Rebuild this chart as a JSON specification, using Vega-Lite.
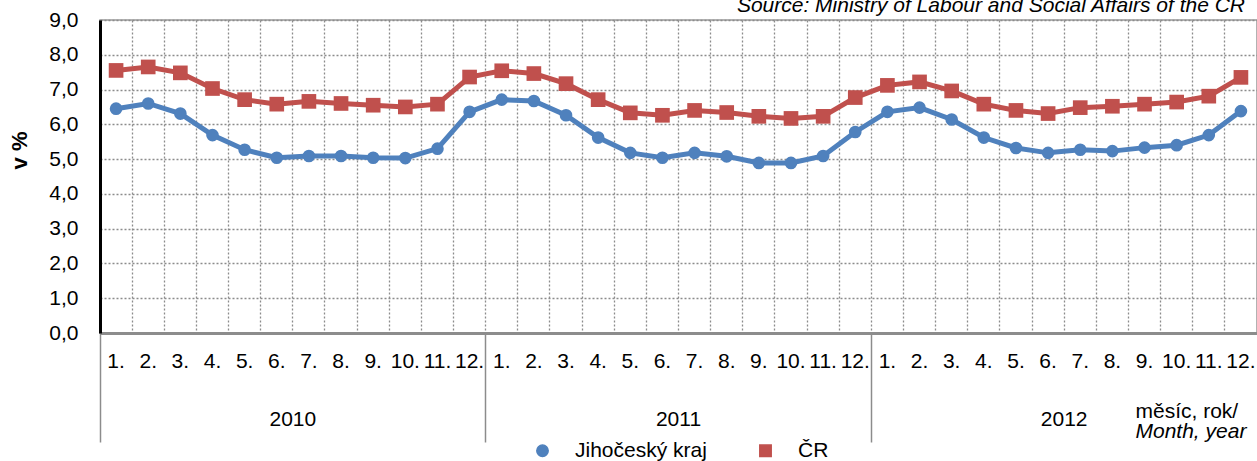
{
  "$schema": "https://vega.github.io/schema/vega-lite/v6.json",
  "width": 1157,
  "height": 313,
  "autosize": "none",
  "padding": {"left": 100, "top": 20, "right": 0, "bottom": 128},
  "background": "white",
  "title": {
    "text": "Source: Ministry of Labour and Social Affairs of the CR",
    "anchor": "end",
    "frame": "group",
    "fontSize": 21,
    "fontStyle": "italic",
    "fontWeight": "normal",
    "color": "black",
    "baseline": "alphabetic",
    "offset": -9,
    "dx": -12,
    "dy": 15
  },
  "data": {
    "values": [
      {"period": "2010-01", "year": "2010", "series": "Jihočeský kraj", "value": 6.45},
      {"period": "2010-02", "year": "2010", "series": "Jihočeský kraj", "value": 6.60},
      {"period": "2010-03", "year": "2010", "series": "Jihočeský kraj", "value": 6.31},
      {"period": "2010-04", "year": "2010", "series": "Jihočeský kraj", "value": 5.69},
      {"period": "2010-05", "year": "2010", "series": "Jihočeský kraj", "value": 5.27},
      {"period": "2010-06", "year": "2010", "series": "Jihočeský kraj", "value": 5.04},
      {"period": "2010-07", "year": "2010", "series": "Jihočeský kraj", "value": 5.09},
      {"period": "2010-08", "year": "2010", "series": "Jihočeský kraj", "value": 5.09},
      {"period": "2010-09", "year": "2010", "series": "Jihočeský kraj", "value": 5.04},
      {"period": "2010-10", "year": "2010", "series": "Jihočeský kraj", "value": 5.03},
      {"period": "2010-11", "year": "2010", "series": "Jihočeský kraj", "value": 5.30},
      {"period": "2010-12", "year": "2010", "series": "Jihočeský kraj", "value": 6.36},
      {"period": "2011-01", "year": "2011", "series": "Jihočeský kraj", "value": 6.71},
      {"period": "2011-02", "year": "2011", "series": "Jihočeský kraj", "value": 6.67},
      {"period": "2011-03", "year": "2011", "series": "Jihočeský kraj", "value": 6.26},
      {"period": "2011-04", "year": "2011", "series": "Jihočeský kraj", "value": 5.62},
      {"period": "2011-05", "year": "2011", "series": "Jihočeský kraj", "value": 5.18},
      {"period": "2011-06", "year": "2011", "series": "Jihočeský kraj", "value": 5.04},
      {"period": "2011-07", "year": "2011", "series": "Jihočeský kraj", "value": 5.18},
      {"period": "2011-08", "year": "2011", "series": "Jihočeský kraj", "value": 5.08},
      {"period": "2011-09", "year": "2011", "series": "Jihočeský kraj", "value": 4.89},
      {"period": "2011-10", "year": "2011", "series": "Jihočeský kraj", "value": 4.89},
      {"period": "2011-11", "year": "2011", "series": "Jihočeský kraj", "value": 5.09},
      {"period": "2011-12", "year": "2011", "series": "Jihočeský kraj", "value": 5.78},
      {"period": "2012-01", "year": "2012", "series": "Jihočeský kraj", "value": 6.36},
      {"period": "2012-02", "year": "2012", "series": "Jihočeský kraj", "value": 6.48},
      {"period": "2012-03", "year": "2012", "series": "Jihočeský kraj", "value": 6.14},
      {"period": "2012-04", "year": "2012", "series": "Jihočeský kraj", "value": 5.62},
      {"period": "2012-05", "year": "2012", "series": "Jihočeský kraj", "value": 5.32},
      {"period": "2012-06", "year": "2012", "series": "Jihočeský kraj", "value": 5.18},
      {"period": "2012-07", "year": "2012", "series": "Jihočeský kraj", "value": 5.27},
      {"period": "2012-08", "year": "2012", "series": "Jihočeský kraj", "value": 5.23},
      {"period": "2012-09", "year": "2012", "series": "Jihočeský kraj", "value": 5.33},
      {"period": "2012-10", "year": "2012", "series": "Jihočeský kraj", "value": 5.40},
      {"period": "2012-11", "year": "2012", "series": "Jihočeský kraj", "value": 5.69},
      {"period": "2012-12", "year": "2012", "series": "Jihočeský kraj", "value": 6.38},
      {"period": "2010-01", "year": "2010", "series": "ČR", "value": 7.55},
      {"period": "2010-02", "year": "2010", "series": "ČR", "value": 7.65},
      {"period": "2010-03", "year": "2010", "series": "ČR", "value": 7.48},
      {"period": "2010-04", "year": "2010", "series": "ČR", "value": 7.03},
      {"period": "2010-05", "year": "2010", "series": "ČR", "value": 6.71},
      {"period": "2010-06", "year": "2010", "series": "ČR", "value": 6.58},
      {"period": "2010-07", "year": "2010", "series": "ČR", "value": 6.66},
      {"period": "2010-08", "year": "2010", "series": "ČR", "value": 6.60},
      {"period": "2010-09", "year": "2010", "series": "ČR", "value": 6.55},
      {"period": "2010-10", "year": "2010", "series": "ČR", "value": 6.50},
      {"period": "2010-11", "year": "2010", "series": "ČR", "value": 6.58},
      {"period": "2010-12", "year": "2010", "series": "ČR", "value": 7.36},
      {"period": "2011-01", "year": "2011", "series": "ČR", "value": 7.54},
      {"period": "2011-02", "year": "2011", "series": "ČR", "value": 7.46},
      {"period": "2011-03", "year": "2011", "series": "ČR", "value": 7.17},
      {"period": "2011-04", "year": "2011", "series": "ČR", "value": 6.71},
      {"period": "2011-05", "year": "2011", "series": "ČR", "value": 6.33},
      {"period": "2011-06", "year": "2011", "series": "ČR", "value": 6.26},
      {"period": "2011-07", "year": "2011", "series": "ČR", "value": 6.40},
      {"period": "2011-08", "year": "2011", "series": "ČR", "value": 6.34},
      {"period": "2011-09", "year": "2011", "series": "ČR", "value": 6.23},
      {"period": "2011-10", "year": "2011", "series": "ČR", "value": 6.17},
      {"period": "2011-11", "year": "2011", "series": "ČR", "value": 6.23},
      {"period": "2011-12", "year": "2011", "series": "ČR", "value": 6.77},
      {"period": "2012-01", "year": "2012", "series": "ČR", "value": 7.12},
      {"period": "2012-02", "year": "2012", "series": "ČR", "value": 7.22},
      {"period": "2012-03", "year": "2012", "series": "ČR", "value": 6.96},
      {"period": "2012-04", "year": "2012", "series": "ČR", "value": 6.58},
      {"period": "2012-05", "year": "2012", "series": "ČR", "value": 6.40},
      {"period": "2012-06", "year": "2012", "series": "ČR", "value": 6.31},
      {"period": "2012-07", "year": "2012", "series": "ČR", "value": 6.48},
      {"period": "2012-08", "year": "2012", "series": "ČR", "value": 6.52},
      {"period": "2012-09", "year": "2012", "series": "ČR", "value": 6.58},
      {"period": "2012-10", "year": "2012", "series": "ČR", "value": 6.64},
      {"period": "2012-11", "year": "2012", "series": "ČR", "value": 6.81},
      {"period": "2012-12", "year": "2012", "series": "ČR", "value": 7.35}
    ]
  },
  "layer": [
    {
      "encoding": {
        "x": {
          "field": "period",
          "type": "ordinal",
          "scale": {"type": "band", "paddingInner": 0, "paddingOuter": 0},
          "axis": {
            "orient": "bottom",
            "title": "měsíc, rok/",
            "titleX": 1035,
            "titleY": 84,
            "titleAlign": "left",
            "titleBaseline": "alphabetic",
            "titleAngle": 0,
            "titleFontSize": 21,
            "titleFontWeight": "normal",
            "titleColor": "black",
            "labelExpr": "toNumber(slice(datum.value, 5)) + '.'",
            "labelAngle": 0,
            "labelFontSize": 21,
            "labelColor": "black",
            "labelPadding": 17,
            "labelOverlap": false,
            "bandPosition": 0,
            "ticks": false,
            "grid": true,
            "gridDash": [2, 2],
            "gridColor": "#8c8c8c",
            "gridWidth": 1.3,
            "domainColor": "#8c8c8c",
            "domainWidth": 3
          }
        },
        "y": {
          "field": "value",
          "type": "quantitative",
          "scale": {"domain": [0, 9], "nice": false},
          "axis": {
            "title": "v %",
            "titleFontSize": 22,
            "titleFontWeight": "bold",
            "titleColor": "black",
            "titleX": -81,
            "titleY": 130,
            "titleAngle": -90,
            "titleAlign": "center",
            "titleBaseline": "middle",
            "values": [0, 1, 2, 3, 4, 5, 6, 7, 8, 9],
            "labelExpr": "replace(format(datum.value, '.1f'), '.', ',')",
            "labelFontSize": 21,
            "labelColor": "black",
            "labelPadding": 22,
            "ticks": false,
            "domainColor": "black",
            "domainWidth": 3,
            "grid": true,
            "gridDash": [2, 2],
            "gridColor": "#8c8c8c",
            "gridWidth": 1.3
          }
        },
        "color": {
          "field": "series",
          "type": "nominal",
          "scale": {"domain": ["Jihočeský kraj", "ČR"], "range": ["#4F81BD", "#C0504D"]},
          "legend": {
            "orient": "none",
            "legendX": 432,
            "legendY": 420,
            "direction": "horizontal",
            "title": null,
            "labelFontSize": 21,
            "labelColor": "black",
            "labelOffset": 22,
            "columnPadding": 48,
            "symbolSize": 130
          }
        }
      },
      "layer": [
        {"mark": {"type": "line", "strokeWidth": 5}, "encoding": {}},
        {
          "mark": {"type": "point", "filled": true, "opacity": 1},
          "encoding": {
            "shape": {
              "field": "series",
              "type": "nominal",
              "scale": {"domain": ["Jihočeský kraj", "ČR"], "range": ["circle", "square"]},
              "legend": null
            },
            "size": {
              "condition": {"test": "datum.series === 'ČR'", "value": 215},
              "value": 160
            }
          }
        }
      ]
    },
    {
      "mark": {"type": "rule", "opacity": 0},
      "encoding": {
        "x": {
          "field": "year",
          "type": "ordinal",
          "scale": {"type": "band", "paddingInner": 0, "paddingOuter": 0},
          "axis": {
            "orient": "bottom",
            "title": "Month, year",
            "titleFontStyle": "italic",
            "titleFontWeight": "normal",
            "titleFontSize": 21,
            "titleColor": "black",
            "titleX": 1035,
            "titleY": 104,
            "titleAlign": "left",
            "titleBaseline": "alphabetic",
            "titleAngle": 0,
            "labelAngle": 0,
            "labelFontSize": 21,
            "labelColor": "black",
            "labelPadding": -34,
            "bandPosition": 0,
            "tickSize": 109,
            "tickColor": "#8c8c8c",
            "tickWidth": 1.5,
            "domain": false,
            "grid": false
          }
        }
      }
    }
  ],
  "resolve": {"scale": {"x": "independent"}, "axis": {"x": "independent"}},
  "config": {
    "font": "Liberation Sans",
    "view": {"stroke": "#999999", "strokeWidth": 1.5}
  }
}
